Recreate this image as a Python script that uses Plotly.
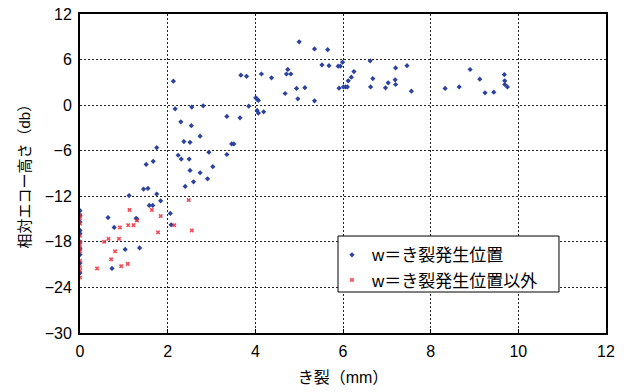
import plotly.graph_objects as go

# Blue series: w = crack initiation position
blue_x = [0, 0, 0, 0, 0, 0, 0, 0, 0, 0,
          0.64, 0.78, 0.73, 1.03, 1.36, 1.12, 1.28, 1.30, 1.45, 1.55, 1.58, 1.66, 1.75, 1.84,
          2.06, 2.08, 1.51, 1.67, 1.75, 2.40, 2.59, 2.51, 2.74, 2.91, 3.03, 2.24, 2.31, 2.49,
          2.94, 3.35, 2.37, 2.51, 2.74, 3.46, 3.51, 2.30, 2.54, 3.35, 3.65, 2.17, 2.55, 2.81,
          3.85, 4.04, 4.07, 4.19, 4.01, 4.04, 4.07, 2.13, 3.67, 3.80, 4.14, 4.37, 4.74, 4.71,
          4.81, 4.68, 4.94, 5.13, 4.97, 5.35, 5.00, 5.35, 5.65, 5.52, 5.68, 5.89, 5.94, 5.99,
          6.12, 5.91, 6.01, 6.06, 6.10, 6.19, 6.25, 6.62, 6.68, 6.63, 6.97, 7.03, 7.20, 7.19,
          7.20, 7.46, 7.56, 8.33, 8.65, 8.90, 9.12, 9.24, 9.44, 9.68, 9.69, 9.69, 9.75]
blue_y = [-13.9, -14.5, -15.4, -16.5, -16.9, -18.0, -18.9, -19.7, -20.8, -22.1,
          -14.8, -16.1, -21.5, -19.0, -18.8, -11.9, -14.9, -15.0, -11.05, -10.96, -13.2, -13.2, -11.7, -12.6,
          -14.25, -15.75, -7.8, -7.4, -5.6, -10.7, -10.1, -8.6, -8.9, -9.7, -8.1, -6.6, -7.1, -7.1,
          -6.2, -6.5, -4.8, -4.9, -4.08, -5.1, -5.1, -2.2, -2.7, -1.49, -1.67, -0.48, -0.26, -0.09,
          -0.13, -0.7, -1.05, -0.88, 0.96, 0.79, 0.62, 3.16, 3.95, 3.8, 4.1, 3.6, 4.7, 4.1,
          4.1, 1.53, 2.2, 2.3, 0.83, 0.57, 8.33, 7.4, 7.3, 5.3, 5.2, 5.13, 5.13, 5.66,
          3.2, 2.24, 2.4, 2.4, 2.4, 3.68, 4.42, 5.83, 3.5, 2.4, 2.28, 2.94, 4.9, 3.33,
          2.72, 5.2, 1.84, 2.2, 2.4, 4.69, 3.42, 1.62, 1.71, 4.03, 3.2, 2.72, 2.4]

# Red series: w other than crack initiation position
red_x = [0, 0, 0, 0, 0, 0, 0, 0, 0, 0, 0, 0,
         2.48, 1.13, 1.64, 1.84, 1.30, 1.10, 1.22, 0.91, 2.15, 1.78, 2.55, 0.65, 0.55,
         0.89, 0.80, 0.71, 0.94, 1.09, 0.39]
red_y = [-14.5, -14.9, -15.6, -17.2, -18.0, -18.4, -18.9, -19.3, -20.5, -21.3, -21.8, -22.7,
         -12.5, -13.8, -13.8, -14.6, -15.2, -15.8, -15.8, -16.1, -15.8, -16.75, -16.5, -17.6, -18.0,
         -17.6, -19.25, -20.3, -21.2, -20.9, -21.5]

x_ticks = [0, 2, 4, 6, 8, 10, 12]
y_ticks = [-30, -24, -18, -12, -6, 0, 6, 12]

name_blue = "w＝き裂発生位置"
name_red = "w＝き裂発生位置以外"
x_title = "き裂（mm）"
y_title = "相対エコー高さ（db）"

fig = go.Figure()
fig.add_trace(go.Scatter(x=blue_x, y=blue_y, mode="markers", name=name_blue, legendgroup="a",
                         marker=dict(symbol="diamond", size=4, color="#2b42a0")))
fig.add_trace(go.Scatter(x=red_x, y=red_y, mode="markers", name=name_red, legendgroup="b",
                         marker=dict(symbol="x", size=4, color="#ee2a3a", opacity=0.85)))

font_main = "Liberation Sans, Noto Sans CJK JP, sans-serif"
grid_dash = "2px,2px"

# legend frame (paper coordinates)
fig.add_shape(type="rect", xref="paper", yref="paper", x0=0.4905, x1=0.9106, y0=0.1285, y1=0.304,
              line=dict(color="black", width=1), fillcolor="white", layer="above")

# y axis title as annotation for exact placement
fig.add_annotation(text=y_title, xref="paper", yref="paper", x=-0.1046, y=0.503,
                   xanchor="center", yanchor="middle", textangle=-90, showarrow=False,
                   font=dict(size=15, family=font_main, color="black"))

fig.update_layout(
    width=628, height=392,
    margin=dict(l=80, r=22, t=14, b=59),
    paper_bgcolor="white", plot_bgcolor="white",
    font=dict(family=font_main, size=16, color="black"),
    showlegend=True,
    legend=dict(x=0.479, y=0.30, xanchor="left", yanchor="top",
                bgcolor="rgba(0,0,0,0)", borderwidth=0,
                font=dict(size=17, family=font_main), tracegroupgap=0,
                itemwidth=30),
)
fig.update_xaxes(range=[0, 12], tickvals=x_ticks, showgrid=True, gridcolor="#222222",
                 griddash=grid_dash, gridwidth=1, showline=True, linecolor="black", linewidth=2,
                 mirror=True, ticks="inside", ticklen=4, tickcolor="black", zeroline=False,
                 automargin=False, ticklabelstandoff=3,
                 title=dict(text=x_title, font=dict(size=16), standoff=13))
fig.update_yaxes(range=[-30, 12], tickvals=y_ticks, showgrid=True, gridcolor="#222222",
                 griddash=grid_dash, gridwidth=1, showline=True, linecolor="black", linewidth=2,
                 mirror=True, ticks="", zeroline=False, automargin=False, ticklabelstandoff=3)

fig.write_html("out.html", config={"displayModeBar": False},
               post_script="document.body.style.margin='0';")
